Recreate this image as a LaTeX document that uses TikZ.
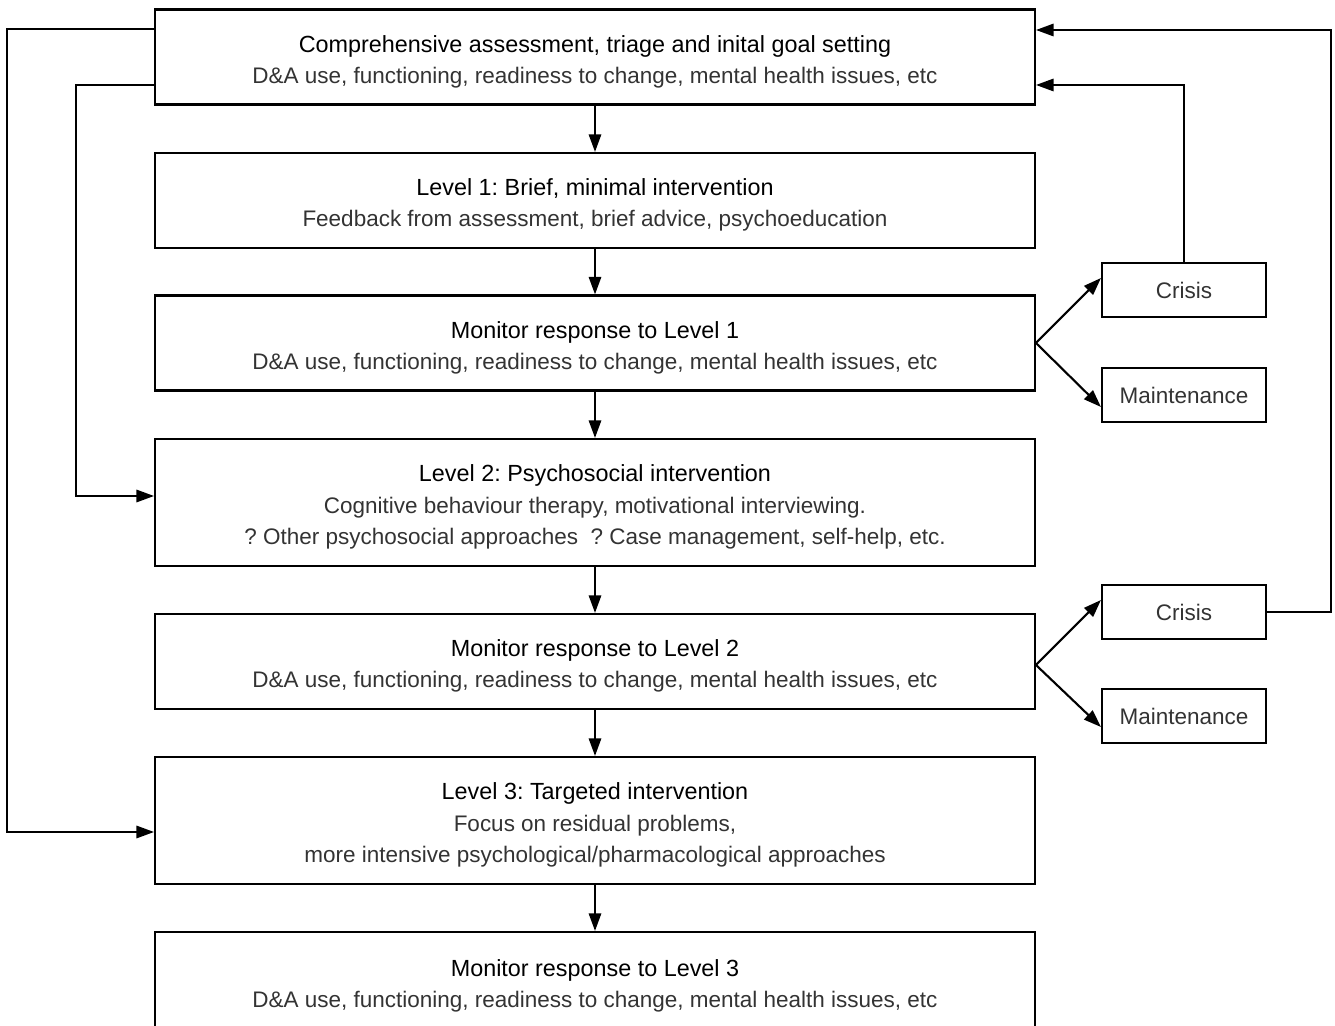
\documentclass[tikz,border=0pt]{standalone}
\usepackage{fontspec}
\setmainfont{Liberation Sans}
\usetikzlibrary{arrows.meta}
\frenchspacing
\newcommand{\boxtitle}[1]{{\color{black}\fontsize{13.3}{17.8}\selectfont\rule{0pt}{14.8pt}#1}}

\begin{document}
\begin{tikzpicture}[x=0.02cm, y=-0.02cm, line width=1.2pt, >={Triangle[length=10pt, width=7pt]},
    every node/.style={draw=black, align=center, text=black!80, font=\fontsize{12.8}{17.8}\selectfont, inner sep=0pt},
    mainbox/.style={minimum width=17.6cm, minimum height=1.9cm},
    tallbox/.style={minimum width=17.6cm, minimum height=2.54cm},
    sidebox/.style={minimum width=3.28cm, minimum height=1.08cm}]
        \clip (0,0) rectangle (1335,1026);
        \node[mainbox] (b1) at (595,57) {\boxtitle{Comprehensive assessment, triage and inital goal setting}\\ D\&A use, functioning, readiness to change, mental health issues, etc};
        \node[mainbox] (b2) at (595,200.5) {\boxtitle{Level 1: Brief, minimal intervention}\\ Feedback from assessment, brief advice, psychoeducation};
        \node[mainbox] (b3) at (595,343) {\boxtitle{Monitor response to Level 1}\\ D\&A use, functioning, readiness to change, mental health issues, etc};
        \node[tallbox] (b4) at (595,502.5) {\boxtitle{Level 2: Psychosocial intervention}\\ Cognitive behaviour therapy, motivational interviewing.\\ ? Other psychosocial approaches\ \ ? Case management, self-help, etc.};
        \node[mainbox] (b5) at (595,661.5) {\boxtitle{Monitor response to Level 2}\\ D\&A use, functioning, readiness to change, mental health issues, etc};
        \node[tallbox] (b6) at (595,820.5) {\boxtitle{Level 3: Targeted intervention}\\ Focus on residual problems,\\ more intensive psychological/pharmacological approaches};
        \node[mainbox, minimum height=1.96cm] (b7) at (595,981) {\boxtitle{Monitor response to Level 3}\\ D\&A use, functioning, readiness to change, mental health issues, etc};

        \node[sidebox] (c1) at (1184,290) {Crisis};
        \node[sidebox] (m1) at (1184,395) {Maintenance};
        \node[sidebox] (c2) at (1184,612) {Crisis};
        \node[sidebox] (m2) at (1184,716) {Maintenance};

        \foreach \i/\j in {1/2, 2/3, 3/4, 4/5, 5/6, 6/7} {
            \draw[->] (b\i) -- (b\j);
        }
        \draw[->] (b3.east) -- ([yshift=0.24cm]c1.west);
        \draw[->] (b3.east) -- ([yshift=-0.24cm]m1.west);
        \draw[->] ([yshift=-0.07cm]b5.east) -- ([yshift=0.24cm]c2.west);
        \draw[->] ([yshift=-0.07cm]b5.east) -- ([yshift=-0.22cm]m2.west);
        \draw[->] (c1.north) |- ([yshift=-0.56cm]b1.east);
        \draw[->] (c2.east) -- ++(64,0) |- ([yshift=0.54cm]b1.east);
        \draw[->] ([yshift=0.56cm]b1.west) -- ++(-147,0) |- ([yshift=-0.23cm]b6.west);
        \draw[->] ([yshift=-0.56cm]b1.west) -- ++(-78,0) |- ([yshift=0.13cm]b4.west);
\end{tikzpicture}
\end{document}
